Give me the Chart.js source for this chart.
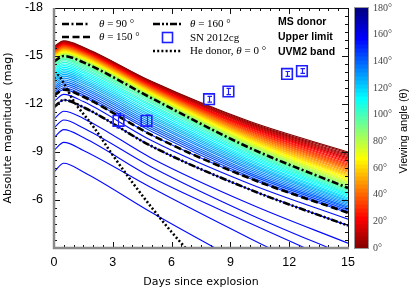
<!DOCTYPE html>
<html>
<head>
<meta charset="utf-8">
<script src="https://cdn.jsdelivr.net/npm/chart.js@4.4.1/dist/chart.umd.min.js"></script>
<style>
    html, body { margin: 0; padding: 0; background: #fff; }
</style>
</head>
<body>
<canvas id="myChart" width="415" height="292"></canvas>
<script>
// model light curves (MS donor), one value per viewing angle at each sample day
const sampleDays = [0, 0.5, 1.5, 5, 10, 15];
const angles = [0, 3, 6, 9, 12, 15, 18, 21, 24, 27, 30, 33, 36, 39, 42, 45, 48, 51, 54, 57, 60,
    63, 66, 69, 72, 75, 78, 81, 84, 87, 90, 93, 96, 99, 102, 105, 108, 111, 114, 117, 120,
    123, 126, 129, 132, 135, 138, 141, 144, 147, 150, 155, 160, 164, 168, 172, 176, 180];
const magStart = [-15.60, -15.57, -15.54, -15.50, -15.47, -15.44, -15.41, -15.38, -15.35, -15.32, -15.28,
    -15.25, -15.22, -15.19, -15.16, -15.13, -15.09, -15.06, -15.03, -15.00, -14.97, -14.94, -14.90, -14.87,
    -14.84, -14.81, -14.78, -14.75, -14.71, -14.68, -14.65,
    -14.56, -14.49, -14.41, -14.32, -14.22, -14.12, -14.02, -13.91, -13.80, -13.69, -13.58, -13.47, -13.36,
    -13.24, -13.12, -13.00, -12.88, -12.76, -12.64, -12.52,
    -12.15, -11.80, -11.05, -10.50, -9.90, -9.10, -7.75];
const magPeak = [-15.95, -15.92, -15.89, -15.85, -15.82, -15.79, -15.76, -15.73, -15.70, -15.67, -15.63,
    -15.60, -15.57, -15.54, -15.51, -15.48, -15.44, -15.41, -15.38, -15.35, -15.32, -15.29, -15.25, -15.22,
    -15.19, -15.16, -15.13, -15.10, -15.06, -15.03, -15.00,
    -14.94, -14.87, -14.79, -14.70, -14.60, -14.50, -14.40, -14.29, -14.18, -14.07, -13.96, -13.85, -13.74,
    -13.62, -13.50, -13.38, -13.26, -13.14, -13.02, -12.90,
    -12.60, -12.25, -11.55, -11.00, -10.40, -9.60, -8.30];
const magDay1p5 = [-15.55, -15.52, -15.49, -15.45, -15.42, -15.39, -15.36, -15.33, -15.30, -15.27, -15.23,
    -15.20, -15.17, -15.14, -15.11, -15.08, -15.04, -15.01, -14.98, -14.95, -14.92, -14.89, -14.85, -14.82,
    -14.79, -14.76, -14.73, -14.70, -14.66, -14.63, -14.60,
    -14.49, -14.42, -14.34, -14.25, -14.15, -14.05, -13.95, -13.84, -13.73, -13.62, -13.51, -13.40, -13.29,
    -13.17, -13.05, -12.93, -12.81, -12.69, -12.57, -12.45,
    -12.15, -11.80, -11.10, -10.50, -9.90, -9.10, -7.75];
const magDay5 = [-13.40, -13.37, -13.33, -13.30, -13.26, -13.23, -13.19, -13.16, -13.12, -13.09, -13.05,
    -13.02, -12.98, -12.95, -12.91, -12.88, -12.84, -12.81, -12.77, -12.74, -12.70, -12.67, -12.63, -12.60,
    -12.56, -12.53, -12.49, -12.46, -12.42, -12.39, -12.35,
    -12.29, -12.22, -12.14, -12.05, -11.94, -11.84, -11.73, -11.62, -11.50, -11.39, -11.27, -11.16, -11.04,
    -10.91, -10.79, -10.66, -10.53, -10.40, -10.27, -10.05,
    -9.70, -9.35, -8.60, -8.05, -7.40, -6.75, -5.20];
const magDay10 = [-10.90, -10.85, -10.79, -10.74, -10.68, -10.63, -10.57, -10.52, -10.46, -10.41, -10.35,
    -10.30, -10.24, -10.19, -10.13, -10.08, -10.02, -9.97, -9.91, -9.86, -9.80, -9.75, -9.69, -9.64,
    -9.58, -9.53, -9.47, -9.42, -9.36, -9.31, -9.25,
    -9.20, -9.14, -9.07, -8.99, -8.90, -8.81, -8.72, -8.62, -8.52, -8.42, -8.32, -8.22, -8.12,
    -8.01, -7.90, -7.79, -7.68, -7.57, -7.46, -7.35,
    -7.00, -6.65, -5.75, -5.10, -4.55, -3.60, -1.80];
const magDay15 = [-9.00, -8.93, -8.85, -8.78, -8.70, -8.63, -8.55, -8.48, -8.40, -8.33, -8.25,
    -8.18, -8.10, -8.03, -7.95, -7.88, -7.80, -7.73, -7.65, -7.58, -7.50, -7.43, -7.35, -7.28,
    -7.20, -7.13, -7.05, -6.98, -6.90, -6.83, -6.75,
    -6.71, -6.65, -6.60, -6.53, -6.45, -6.38, -6.31, -6.23, -6.14, -6.06, -5.98, -5.90, -5.82,
    -5.73, -5.64, -5.55, -5.47, -5.38, -5.29, -5.20,
    -4.80, -4.40, -3.30, -2.50, -1.80, -0.60, 1.60];

// He donor, theta = 0
const heDays = [0, 0.2, 0.5, 1, 2, 3, 4, 5, 6, 7];
const heMag = [-13.6, -13.8, -13.3, -12.2, -10.6, -8.8, -7.1, -5.5, -4.0, -2.6];

// SN 2012cg, UVM2
const snDays = [3.29, 4.72, 7.91, 8.9, 11.89, 12.65];
const snMag = [-10.95, -10.95, -12.3, -12.78, -13.88, -14.06];
const snErr = [0.45, 0.35, 0.18, 0.2, 0.15, 0.15];

// axis ticks
const xTicks = [0, 3, 6, 9, 12, 15];
const yTicks = [-18, -15, -12, -9, -6, -3];
const cbTicks = [0, 20, 40, 60, 80, 100, 120, 140, 160, 180];

const modelColumns = [magStart, magPeak, magDay1p5, magDay5, magDay10, magDay15];

const dashDot = [7, 2.5, 2, 2.5];
const dashed = [7, 3.5];
const dashDotDot = [7, 2, 2, 2, 2, 2];
const dotted = [2, 2.2];
const snBlue = '#1e1eff';

function jet(t) {
    const c = v => Math.round(255 * Math.max(0, Math.min(1, v)));
    return 'rgb(' + c(1.5 - Math.abs(4 * t - 3)) + ',' + c(1.5 - Math.abs(4 * t - 2)) + ',' + c(1.5 - Math.abs(4 * t - 1)) + ')';
}
function angleColour(a) {
    return jet(1 - a / 180);
}

function curve(i) {
    return sampleDays.map((d, j) => ({ x: d, y: modelColumns[j][i] }));
}

const datasets = [];

datasets.push({
    label: 'SN 2012cg',
    data: snDays.map((d, i) => ({ x: d, y: snMag[i] })),
    showLine: false,
    pointStyle: 'rect',
    pointRadius: 7.5,
    borderColor: snBlue,
    backgroundColor: 'rgba(0,0,0,0)',
    pointBorderWidth: 1.6,
    order: 1
});

datasets.push({
    label: 'He donor',
    data: heDays.map((d, i) => ({ x: d, y: heMag[i] })),
    borderColor: '#000',
    borderWidth: 2.6,
    borderDash: dotted,
    pointRadius: 0,
    cubicInterpolationMode: 'monotone',
    order: 2
});

const blackLines = [
    { angle: 90, dash: dashDot },
    { angle: 150, dash: dashed },
    { angle: 160, dash: dashDotDot }
];
blackLines.forEach((b, k) => {
    datasets.push({
        label: 'theta ' + b.angle,
        data: curve(angles.indexOf(b.angle)),
        borderColor: '#000',
        borderWidth: 2.6,
        borderDash: b.dash,
        pointRadius: 0,
        cubicInterpolationMode: 'monotone',
        order: 3 + k
    });
});

angles.forEach((a, i) => {
    datasets.push({
        label: 'MS ' + a,
        data: curve(i),
        borderColor: angleColour(Math.min(a, 156)),
        borderWidth: 1.1,
        pointRadius: 0,
        cubicInterpolationMode: 'monotone',
        order: 10 + angles.length - i
    });
});

const tickFont = { family: "'Liberation Sans Narrow', 'Liberation Sans', sans-serif", size: 12.5 };
const titleFont = { family: "'DejaVu Sans', sans-serif", size: 11 };

// inward ticks and frame
const frameTicks = {
    id: 'frameTicks',
    afterDatasetsDraw(chart) {
        const { ctx, chartArea: a, scales: { x, y } } = chart;
        ctx.save();
        ctx.strokeStyle = '#111';
        ctx.lineWidth = 1;
        ctx.beginPath();
        for (let i = 0; i <= 30; i++) {
            const v = i * 0.5;
            const px = Math.round(x.getPixelForValue(v)) + 0.5;
            const len = xTicks.includes(v) ? 6 : 3;
            ctx.moveTo(px, a.bottom); ctx.lineTo(px, a.bottom - len);
            ctx.moveTo(px, a.top); ctx.lineTo(px, a.top + len);
        }
        for (let i = 0; i <= 30; i++) {
            const v = -18 + i * 0.5;
            const py = Math.round(y.getPixelForValue(v)) + 0.5;
            const len = yTicks.includes(v) ? 6 : 3;
            ctx.moveTo(a.left, py); ctx.lineTo(a.left + len, py);
            ctx.moveTo(a.right, py); ctx.lineTo(a.right - len, py);
        }
        ctx.stroke();
        ctx.beginPath();
        ctx.moveTo(a.left, a.top + 0.5); ctx.lineTo(a.right + 0.5, a.top + 0.5); ctx.lineTo(a.right + 0.5, a.bottom);
        ctx.stroke();
        ctx.strokeStyle = '#8a8a8a';
        ctx.lineWidth = 2.5;
        ctx.beginPath();
        ctx.moveTo(a.left, a.top); ctx.lineTo(a.left, a.bottom); ctx.lineTo(a.right + 1, a.bottom);
        ctx.stroke();

        // SN 2012cg error bars
        ctx.strokeStyle = snBlue;
        ctx.lineWidth = 1.2;
        ctx.beginPath();
        snDays.forEach((d, i) => {
            const px = Math.round(x.getPixelForValue(d)) + 0.5;
            const y0 = y.getPixelForValue(snMag[i] - snErr[i]);
            const y1 = y.getPixelForValue(snMag[i] + snErr[i]);
            ctx.moveTo(px, y0); ctx.lineTo(px, y1);
            ctx.moveTo(px - 2, y0); ctx.lineTo(px + 2.5, y0);
            ctx.moveTo(px - 2, y1); ctx.lineTo(px + 2.5, y1);
        });
        ctx.stroke();
        ctx.restore();
    }
};

// colour bar, legend and labels
const extras = {
    id: 'extras',
    afterDraw(chart) {
        const { ctx, scales: { cb } } = chart;
        ctx.save();
        const left = 355, w = 13;
        for (let a = 0; a < 180; a += 3) {
            const yTop = cb.getPixelForValue(a + 3);
            const yBot = cb.getPixelForValue(a);
            ctx.fillStyle = angleColour(a + 1.5);
            ctx.fillRect(left, yTop, w, yBot - yTop + 0.5);
        }
        ctx.strokeStyle = '#999';
        ctx.lineWidth = 1;
        ctx.strokeRect(left - 0.5, cb.top - 0.5, w + 1, cb.bottom - cb.top + 1);

        ctx.fillStyle = '#000';
        ctx.font = "11px 'Liberation Sans', sans-serif";
        ctx.translate(404, 131);
        ctx.rotate(-Math.PI / 2);
        ctx.textAlign = 'center';
        ctx.textBaseline = 'middle';
        ctx.fillText('Viewing angle (θ)', 0, 0);
        ctx.setTransform(1, 0, 0, 1, 0, 0);

        // legend
        const sample = (x0, x1, yy, dash, lw) => {
            ctx.beginPath();
            ctx.setLineDash(dash);
            ctx.lineWidth = lw;
            ctx.strokeStyle = '#000';
            ctx.moveTo(x0, yy); ctx.lineTo(x1, yy);
            ctx.stroke();
            ctx.setLineDash([]);
        };
        const serif = "'Liberation Serif', serif";
        ctx.textAlign = 'left';
        ctx.textBaseline = 'middle';
        const thetaLabel = (xx, yy, before, rest) => {
            ctx.font = '11px ' + serif;
            ctx.fillText(before, xx, yy);
            xx += ctx.measureText(before).width;
            ctx.font = 'italic 11px ' + serif;
            ctx.fillText('θ', xx, yy);
            xx += ctx.measureText('θ').width;
            ctx.font = '11px ' + serif;
            ctx.fillText(rest, xx, yy);
        };
        sample(62, 90, 24, dashDot, 2.6);
        thetaLabel(99, 24, '', ' = 90 °');
        sample(62, 90, 37, dashed, 2.6);
        thetaLabel(99, 37, '', ' = 150 °');
        sample(153, 182, 24, dashDotDot, 2.6);
        thetaLabel(190, 24, '', ' = 160 °');
        ctx.strokeStyle = snBlue;
        ctx.lineWidth = 1.6;
        ctx.strokeRect(162.5, 32.5, 10, 10);
        ctx.fillStyle = '#000';
        ctx.font = '11px ' + serif;
        ctx.fillText('SN 2012cg', 190, 38);
        sample(153, 182, 51, dotted, 2.6);
        thetaLabel(190, 51, 'He donor, ', ' = 0 °');

        ctx.font = "bold 10.5px 'Liberation Sans', sans-serif";
        ctx.fillText('MS donor', 278, 22);
        ctx.fillText('Upper limit', 278, 37);
        ctx.fillText('UVM2 band', 278, 52);
        ctx.restore();
    }
};

const noPad = s => { s.paddingTop = 0; s.paddingBottom = 0; s.paddingLeft = 0; s.paddingRight = 0; };
const noGrid = { display: false, drawTicks: false };

const ctx = document.getElementById('myChart').getContext('2d');
const myChart = new Chart(ctx, {
    type: 'line',
    data: { datasets: datasets },
    options: {
        responsive: false,
        animation: false,
        events: [],
        layout: { autoPadding: false, padding: { top: 8, left: 0, right: 0, bottom: 0 } },
        plugins: {
            legend: { display: false },
            tooltip: { enabled: false }
        },
        scales: {
            x: {
                type: 'linear',
                min: 0,
                max: 15,
                afterBuildTicks: s => { s.ticks = xTicks.map(v => ({ value: v })); },
                afterFit: s => { s.height = 44; noPad(s); },
                grid: noGrid,
                border: { display: false },
                ticks: { font: tickFont, color: '#000', padding: 7, maxRotation: 0 },
                title: { display: true, text: 'Days since explosion', font: titleFont, color: '#000', padding: { top: 0, bottom: 3 } }
            },
            y: {
                type: 'linear',
                min: -18,
                max: -3,
                reverse: true,
                afterBuildTicks: s => { s.ticks = yTicks.map(v => ({ value: v })); },
                afterFit: s => { s.width = 54; noPad(s); },
                grid: noGrid,
                border: { display: false },
                ticks: { font: tickFont, color: '#000', padding: 11, callback: v => (v === -3 ? '' : v) },
                title: { display: true, text: 'Absolute magnitude  (mag)', font: titleFont, color: '#000', padding: { top: 2, bottom: 0 } }
            },
            cb: {
                type: 'linear',
                axis: 'y',
                position: 'right',
                min: 0,
                max: 180,
                afterBuildTicks: s => { s.ticks = cbTicks.map(v => ({ value: v })); },
                afterFit: s => { s.width = 67; noPad(s); },
                grid: noGrid,
                border: { display: false },
                ticks: { font: { family: "'Liberation Serif', serif", size: 10 }, color: '#444', padding: 25, callback: v => v + '°' }
            }
        }
    },
    plugins: [frameTicks, extras]
});
</script>
</body>
</html>
